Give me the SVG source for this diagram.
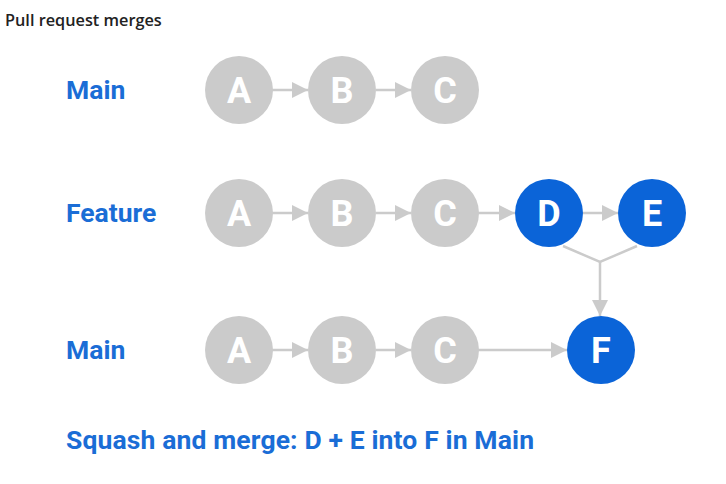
<svg xmlns="http://www.w3.org/2000/svg" width="726" height="484" viewBox="0 0 726 484">
<style>
.bg{fill:#ffffff}
.title{font-family:"Open Sans","Noto Sans",sans-serif;font-weight:600;font-size:16.3px;fill:#222222}
.lbl{font-family:Roboto,"Liberation Sans",sans-serif;font-weight:700;font-size:26.5px;fill:#1a6dd6}
.g circle{fill:#cbcbcb}
.b circle{fill:#0b64d8}
.node text{font-family:Roboto,"Liberation Sans",sans-serif;font-weight:700;font-size:36px;fill:#ffffff;text-anchor:middle}
.edge{stroke:#cbcbcb;stroke-width:2.5;fill:none}
</style>
<defs>
<marker id="ah" viewBox="0 0 16 16" refX="16" refY="8" markerWidth="16" markerHeight="16" markerUnits="userSpaceOnUse" orient="auto">
<path d="M0,0 L16,8 L0,16 Z" fill="#cbcbcb"/>
</marker>
</defs>
<rect class="bg" width="726" height="484"/>
<text class="title" x="5" y="26">Pull request merges</text>
<g id="labels">
<text class="lbl" x="66" y="99">Main</text>
<text class="lbl" x="66" y="222">Feature</text>
<text class="lbl" x="66" y="359">Main</text>
<text class="lbl" x="66" y="449" textLength="468" lengthAdjust="spacing">Squash and merge: D + E into F in Main</text>
</g>
<g id="connectors">
<line class="edge" x1="272" y1="90" x2="308" y2="90" marker-end="url(#ah)"/>
<line class="edge" x1="376" y1="90" x2="411" y2="90" marker-end="url(#ah)"/>
<line class="edge" x1="272" y1="213" x2="308" y2="213" marker-end="url(#ah)"/>
<line class="edge" x1="376" y1="213" x2="411" y2="213" marker-end="url(#ah)"/>
<line class="edge" x1="478" y1="213" x2="515" y2="213" marker-end="url(#ah)"/>
<line class="edge" x1="583" y1="213" x2="618" y2="213" marker-end="url(#ah)"/>
<line class="edge" x1="272" y1="350" x2="308" y2="350" marker-end="url(#ah)"/>
<line class="edge" x1="376" y1="350" x2="411" y2="350" marker-end="url(#ah)"/>
<line class="edge" x1="478" y1="350" x2="567" y2="350" marker-end="url(#ah)"/>
<polyline class="edge" points="563,246 600,262 637,246"/>
<line class="edge" x1="600" y1="262" x2="600" y2="316" marker-end="url(#ah)"/>
</g>
<g id="main1-A" class="node g"><circle cx="239" cy="90" r="34"/><text x="239" y="103">A</text></g>
<g id="main1-B" class="node g"><circle cx="342" cy="90" r="34"/><text x="342" y="103">B</text></g>
<g id="main1-C" class="node g"><circle cx="445" cy="90" r="34"/><text x="445" y="103">C</text></g>
<g id="feat-A" class="node g"><circle cx="239" cy="213" r="34"/><text x="239" y="226">A</text></g>
<g id="feat-B" class="node g"><circle cx="342" cy="213" r="34"/><text x="342" y="226">B</text></g>
<g id="feat-C" class="node g"><circle cx="445" cy="213" r="34"/><text x="445" y="226">C</text></g>
<g id="feat-D" class="node b"><circle cx="549" cy="213" r="34"/><text x="549" y="226">D</text></g>
<g id="feat-E" class="node b"><circle cx="652" cy="213" r="34"/><text x="652" y="226">E</text></g>
<g id="main2-A" class="node g"><circle cx="239" cy="350" r="34"/><text x="239" y="363">A</text></g>
<g id="main2-B" class="node g"><circle cx="342" cy="350" r="34"/><text x="342" y="363">B</text></g>
<g id="main2-C" class="node g"><circle cx="445" cy="350" r="34"/><text x="445" y="363">C</text></g>
<g id="main2-F" class="node b"><circle cx="601" cy="350" r="34"/><text x="601" y="363">F</text></g>
</svg>
